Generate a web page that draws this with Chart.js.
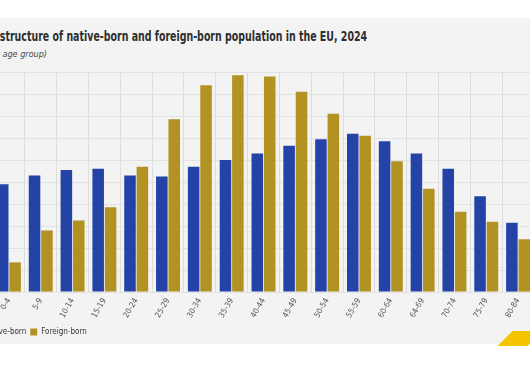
<!DOCTYPE html>
<html>
<head>
<meta charset="utf-8">
<script src="https://cdn.jsdelivr.net/npm/chart.js@4.4.1/dist/chart.umd.min.js"></script>
<style>
  body {
    margin: 0;
    width: 530px;
    height: 387px;
    overflow: hidden;
    position: relative;
    background: #ffffff;
    font-family: "Liberation Sans Narrow", "DejaVu Sans Condensed", "Roboto", sans-serif;
  }
  #panel {
    position: absolute;
    left: 0;
    top: 18px;
    width: 530px;
    height: 326px;
    background: #f3f3f3;
  }
  #title {
    position: absolute;
    top: 28px;
    white-space: nowrap;
    font-weight: bold;
    font-size: 14px;
    color: #2e2e2e;
    transform-origin: 0 0;
    transform: scaleX(0.75);
  }
  #subtitle {
    position: absolute;
    top: 49px;
    white-space: nowrap;
    font-style: italic;
    font-size: 9px;
    color: #444;
  }
  #chartBox {
    position: absolute;
    left: -40px;
    top: 62px;
    width: 574px;
    height: 284px;
  }
  #logo {
    position: absolute;
    left: 505px;
    top: 331px;
    width: 30px;
    height: 15px;
    background: #f5c400;
    transform: skewX(-45deg);
  }
</style>
</head>
<body>
<div id="panel"></div>
<div id="title"><span id="titleCut">Age </span>structure of native-born and foreign-born population in the EU, 2024</div>
<div id="subtitle"><span id="subCut">(%, by </span>age group)</div>
<div id="chartBox"><canvas id="chart"></canvas></div>
<div id="logo"></div>
<script>
  // age groups on the x axis
  const ageGroups = ["0-4", "5-9", "10-14", "15-19", "20-24", "25-29", "30-34", "35-39",
    "40-44", "45-49", "50-54", "55-59", "60-64", "64-69", "70-74", "75-79", "80-84"];

  // share of each population (%)
  const nativeBorn = [4.9, 5.3, 5.55, 5.6, 5.3, 5.25, 5.7, 6.0, 6.3, 6.65, 6.95, 7.2, 6.85, 6.3, 5.6, 4.35, 3.15];
  const foreignBorn = [1.35, 2.8, 3.25, 3.85, 5.7, 7.85, 9.4, 9.85, 9.8, 9.1, 8.1, 7.1, 5.95, 4.7, 3.65, 3.2, 2.4];

  const seriesNames = ["Native-born", "Foreign-born"];

  // cut the start of the title / subtitle off the left edge like the screenshot
  const title = document.getElementById("title");
  title.style.left = -document.getElementById("titleCut").offsetWidth * 0.75 + "px";
  const subtitle = document.getElementById("subtitle");
  subtitle.style.left = (3 - document.getElementById("subCut").offsetWidth) + "px";

  const font = "'Liberation Sans Narrow', 'DejaVu Sans Condensed', Roboto, sans-serif";

  new Chart(document.getElementById("chart").getContext("2d"), {
    type: "bar",
    data: {
      labels: ageGroups,
      datasets: [
        {
          label: seriesNames[0],
          data: nativeBorn,
          backgroundColor: "#2443a6",
          categoryPercentage: 0.78,
          barPercentage: 0.93,
        },
        {
          label: seriesNames[1],
          data: foreignBorn,
          backgroundColor: "#b29222",
          categoryPercentage: 0.78,
          barPercentage: 0.93,
        },
      ],
    },
    options: {
      responsive: true,
      maintainAspectRatio: false,
      animation: false,
      layout: { padding: { top: 10, left: 9, right: 0, bottom: 0 } },
      plugins: {
        title: { display: false },
        tooltip: { enabled: false },
        legend: {
          display: true,
          position: "bottom",
          align: "start",
          labels: {
            boxWidth: 7,
            boxHeight: 7,
            padding: 4,
            color: "#333",
            font: { family: font, size: 8 },
          },
        },
      },
      scales: {
        x: {
          grid: { color: "#dcdcdc", offset: true, drawTicks: false },
          border: { display: false },
          ticks: {
            minRotation: 60,
            maxRotation: 60,
            padding: 4.5,
            color: "#555",
            font: { family: font, size: 8 },
          },
        },
        y: {
          min: 0,
          max: 10,
          ticks: { stepSize: 1, display: false },
          grid: { color: "#e2e2e2", drawTicks: false },
          border: { display: false },
          afterFit: (scale) => {
            scale.width = 24;
          },
        },
      },
    },
  });
</script>
</body>
</html>
